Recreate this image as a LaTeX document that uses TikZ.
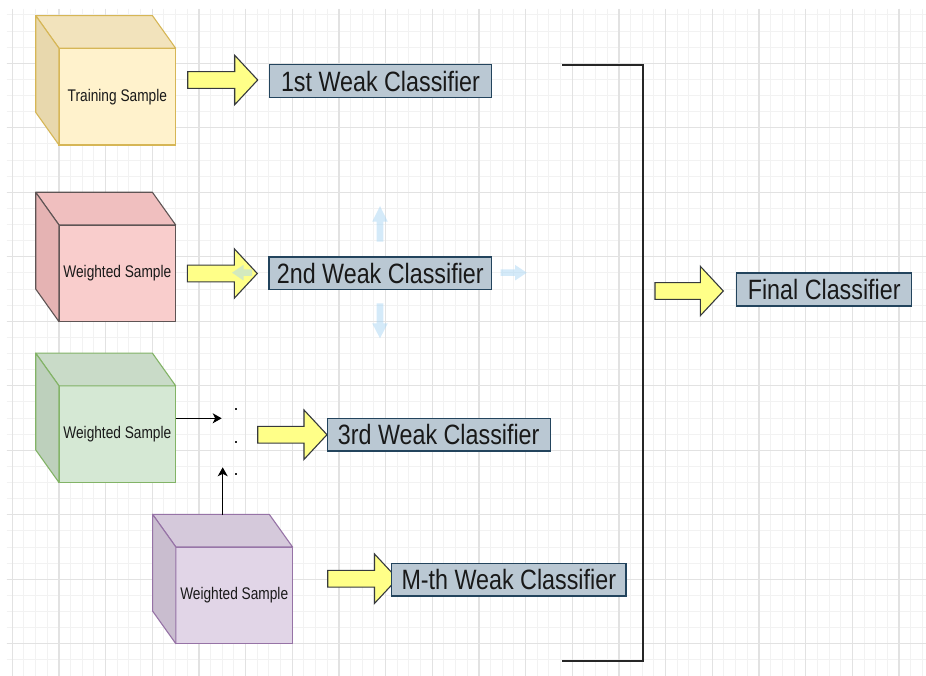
\documentclass[tikz,border=0pt]{standalone}
\usepackage{graphicx}
\usepackage{fontspec}
\setmainfont{Liberation Sans}
\usetikzlibrary{arrows.meta}
\definecolor{gmin}{HTML}{F2F2F2}
\definecolor{gmaj}{HTML}{E2E2E2}
\definecolor{yfront}{HTML}{FFF2CC}\definecolor{ytop}{HTML}{F2E3BC}\definecolor{yside}{HTML}{E8D8AD}\definecolor{ystroke}{HTML}{D6B656}
\definecolor{rfront}{HTML}{F9CDCC}\definecolor{rtop}{HTML}{F0BFBF}\definecolor{rside}{HTML}{E5B3B3}\definecolor{rstroke}{HTML}{5E5454}
\definecolor{gfront}{HTML}{D5E8D4}\definecolor{gtop}{HTML}{C9DBC8}\definecolor{gside}{HTML}{BDD0BC}\definecolor{gstroke}{HTML}{82B366}
\definecolor{pfront}{HTML}{E1D5E7}\definecolor{ptop}{HTML}{D5C9DB}\definecolor{pside}{HTML}{C9BDCF}\definecolor{pstroke}{HTML}{9673A6}
\definecolor{arrfill}{HTML}{FFFF88}\definecolor{arrstroke}{HTML}{36393D}
\definecolor{boxfill}{HTML}{BAC8D3}\definecolor{boxstroke}{HTML}{23445D}
\definecolor{hintblue}{HTML}{AAD7F5}
\newcommand\cubetxt[1]{\scalebox{1}[1.23]{\fontsize{13.7}{16}\selectfont #1}}
\newcommand\boxtxt[1]{\scalebox{1}[1.2]{\fontsize{23.3}{28}\selectfont #1}}
\newcommand\cubefaces[4]{%
  \draw[line width=1.1, draw=#4, fill=#2, line join=round] (#1.north west) -- ++(-23.3,-32.7) -- ++(116.7,0) -- (#1.north east) -- cycle;
  \draw[line width=1.1, draw=#4, fill=#3, line join=round] (#1.north west) -- ++(-23.3,-32.7) -- ++(0,96.7) -- (#1.south west) -- cycle;}
\newcommand\yarrow[3]{%
  \draw[yarrowstyle] (#1,{#3-8.4}) -- ({#2-23},{#3-8.4}) -- ({#2-23},{#3-24.7}) -- (#2,#3) -- ({#2-23},{#3+24.7}) -- ({#2-23},{#3+8.4}) -- (#1,{#3+8.4}) -- cycle;}
\tikzset{
  gridminor/.style={draw=gmin, line width=1},
  gridmajor/.style={draw=gmaj, line width=1.2},
  cubefront/.style={draw, line width=1.1, inner sep=0pt, outer sep=0pt, minimum width=116.7, minimum height=96.7, text=black!90},
  clsbox/.style={draw=boxstroke, fill=boxfill, line width=1.1, inner sep=0pt, outer sep=0pt, minimum height=32.5, text=black!90},
  yarrowstyle/.style={draw=arrstroke, fill=arrfill, line width=1.1, line join=miter},
  hint/.style={fill=hintblue, fill opacity=0.5},
  conn/.style={draw=black, line width=1.3, -{Stealth[length=9,width=10,inset=2.5]}},
  bracketline/.style={draw=black!85, line width=1.3},
}
\begin{document}
\begin{tikzpicture}[x=1pt,y=-1pt]
\useasboundingbox (0,0) rectangle (926,676);
\fill[white] (0,0) rectangle (926,676);
% grid
\begin{scope}
  \clip (6.7,9) rectangle (926,676);
  \foreach \i in {0,...,79} \draw[gridminor] ({12.3+11.667*\i},9) -- ({12.3+11.667*\i},676);
  \foreach \j in {0,...,42} \draw[gridminor] (6.7,{-1.2+16.125*\j}) -- (926,{-1.2+16.125*\j});
  \foreach \i in {0,...,19} \draw[gridmajor] ({12.3+46.667*\i},9) -- ({12.3+46.667*\i},676);
  \foreach \j in {0,...,10} \draw[gridmajor] (6.7,{-1.2+64.5*\j}) -- (926,{-1.2+64.5*\j});
\end{scope}
% cubes
\node[cubefront, draw=ystroke, fill=yfront] (ts) at (117.35,96.65) {\cubetxt{Training Sample}};
\cubefaces{ts}{ytop}{yside}{ystroke}
\node[cubefront, draw=rstroke, fill=rfront] (ws1) at (117.35,273.35) {\cubetxt{Weighted Sample}};
\cubefaces{ws1}{rtop}{rside}{rstroke}
\node[cubefront, draw=gstroke, fill=gfront] (ws2) at (117.35,434.2) {\cubetxt{Weighted Sample}};
\cubefaces{ws2}{gtop}{gside}{gstroke}
\node[cubefront, draw=pstroke, fill=pfront] (ws3) at (234.2,595.35) {\cubetxt{Weighted Sample}};
\cubefaces{ws3}{ptop}{pside}{pstroke}
% small connectors and dots
\coordinate (dotsin) at (221.7,418.3);
\coordinate (dotsup) at (222.7,467.3);
\coordinate (ws3top) at (222.7,515);
\draw[conn] (ws2.east |- dotsin) -- (dotsin);
\draw[conn] (ws3top) -- (dotsup);
\foreach \yy in {409.3,441.7,474} \fill[black!85] (234.9,{\yy-1.15}) rectangle ++(2.3,2.3);
% yellow block arrows
\yarrow{187.7}{257.7}{80}
\yarrow{187.3}{257.3}{273.5}
\yarrow{257.7}{327}{434.7}
\yarrow{327.7}{397.5}{578.7}
\yarrow{655}{723.3}{291}
% classifier boxes
\node[clsbox, minimum width=222.4] (c1) at (380.5,81.2) {\boxtxt{1st Weak Classifier}};
\node[clsbox, minimum width=222.6] (c2) at (380.3,273.3) {\boxtxt{2nd Weak Classifier}};
\node[clsbox, minimum width=222.7] (c3) at (438.7,434.7) {\boxtxt{3rd Weak Classifier}};
\node[clsbox, minimum width=234.3] (c4) at (508.8,579.7) {\boxtxt{M-th Weak Classifier}};
\node[clsbox, minimum width=175, minimum height=33] (fc) at (824.2,289.5) {\boxtxt{Final Classifier}};
% faint hover arrows around 2nd classifier
\fill[hint] (376.7,241.7) -- (376.7,221.7) -- (372.2,221.7) -- (380,206) -- (387.8,221.7) -- (383.3,221.7) -- (383.3,241.7) -- cycle;
\fill[hint] (376.7,303.3) -- (376.7,323.3) -- (372.2,323.3) -- (380,338.3) -- (387.8,323.3) -- (383.3,323.3) -- (383.3,303.3) -- cycle;
\fill[hint] (500.7,269.4) -- (515,269.4) -- (515,264.9) -- (526.7,272.7) -- (515,280.5) -- (515,276) -- (500.7,276) -- cycle;
\fill[hint] (252,269.4) -- (243.5,269.4) -- (243.5,264.9) -- (232,272.7) -- (243.5,280.5) -- (243.5,276) -- (252,276) -- cycle;
% bracket
\draw[bracketline] (562,65) -- (643,65) -- (643,661) -- (562,661);
\end{tikzpicture}
\end{document}
